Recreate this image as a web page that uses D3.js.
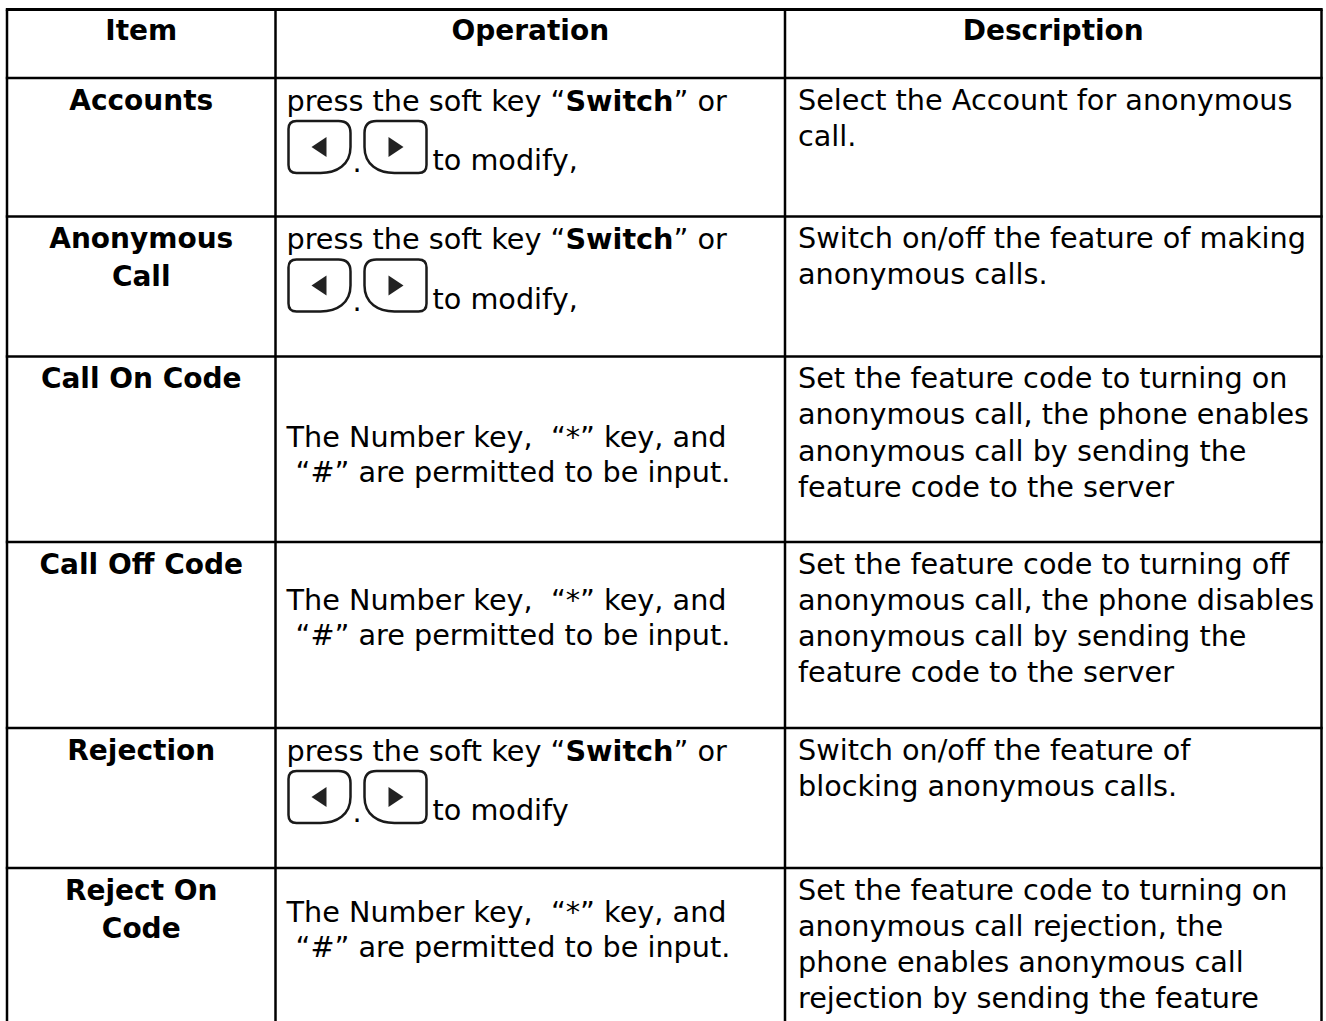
<!DOCTYPE html>
<html><head><meta charset="utf-8">
<script src="https://cdn.jsdelivr.net/npm/d3@7"></script>
<style>body{margin:0;background:#fff}svg{display:block}</style>
</head><body><svg id="c" width="1326" height="1021"></svg>
<script>
// ---------- data ----------
const headers = ["Item", "Operation", "Description"];
const items = [["Accounts"], ["Anonymous", "Call"], ["Call On Code"], ["Call Off Code"], ["Rejection"], ["Reject On", "Code"]];
const operationKinds = ["switch", "switch", "input", "input", "switch", "input"];
const switchLine = ["press the soft key “", "Switch", "” or"];
const switchTails = ["to modify,", "to modify,", null, null, "to modify", null];
const inputLines = ["The Number key,\u00a0 “*” key, and", "\u00a0“#” are permitted to be input."];
const descriptions = [
  ["Select the Account for anonymous", "call."],
  ["Switch on/off the feature of making", "anonymous calls."],
  ["Set the feature code to turning on", "anonymous call, the phone enables", "anonymous call by sending the", "feature code to the server"],
  ["Set the feature code to turning off", "anonymous call, the phone disables", "anonymous call by sending the", "feature code to the server"],
  ["Switch on/off the feature of", "blocking anonymous calls."],
  ["Set the feature code to turning on", "anonymous call rejection, the", "phone enables anonymous call", "rejection by sending the feature"]
];

// ---------- layout ----------
const W = 1326, H = 1021;
const svg = d3.select("#c");
svg.append("rect").attr("width", W).attr("height", H).attr("fill", "#fff");
const FONT = "'DejaVu Sans', Verdana, sans-serif";
const REG = 28.7, BOLD = 28;

const colX = d3.scaleOrdinal().domain(headers).range([7, 275.5, 785]);
const rightEdge = 1321.5;
const colRight = h => { const i = headers.indexOf(h); return i < headers.length - 1 ? colX(headers[i + 1]) : rightEdge; };
const rowIdx = d3.range(items.length + 1);
const rowY = d3.scaleOrdinal().domain(rowIdx).range([9.5, 78, 216.5, 356.5, 542, 728, 868]);
const bottomEdge = 1060;
const inputOffset = [0, 0, 58, 36, 0, 22];

const g = svg.append("g");

// header
g.selectAll("text.hdr").data(headers).join("text")
  .attr("x", h => (colX(h) + colRight(h)) / 2)
  .attr("y", rowY(0) + 30)
  .attr("text-anchor", "middle")
  .attr("font-family", FONT).attr("font-weight", "bold").attr("font-size", BOLD)
  .attr("fill", "#000").text(h => h);

// item column
items.forEach((lines, i) => {
  const cx = (colX("Item") + colRight("Item")) / 2;
  g.selectAll(null).data(lines).join("text")
    .attr("x", cx).attr("y", (d, k) => rowY(i + 1) + 31.5 + k * 38)
    .attr("text-anchor", "middle")
    .attr("font-family", FONT).attr("font-weight", "bold").attr("font-size", BOLD)
    .attr("fill", "#000").text(d => d);
});

// keys
function keyPath(x0, y0, w, h, dir) {
  const x1 = x0 + w, y1 = y0 + h;
  if (dir === "left") {
    return `M${x0 + 8},${y0} H${x1 - 12} Q${x1},${y0} ${x1},${y0 + 12} V${y1 - 26} C${x1},${y1 - 8} ${x1 - 14},${y1} ${x1 - 30},${y1} H${x0 + 8} Q${x0},${y1} ${x0},${y1 - 8} V${y0 + 8} Q${x0},${y0} ${x0 + 8},${y0} Z`;
  }
  return `M${x1 - 8},${y0} H${x0 + 12} Q${x0},${y0} ${x0},${y0 + 12} V${y1 - 26} C${x0},${y1 - 8} ${x0 + 14},${y1} ${x0 + 30},${y1} H${x1 - 8} Q${x1},${y1} ${x1},${y1 - 8} V${y0 + 8} Q${x1},${y0} ${x1 - 8},${y0} Z`;
}
function drawKeys(top, tail) {
  const ox = colX("Operation") + 13;
  const kt = top + 43, kh = 52, kw = 62;
  g.append("path").attr("d", keyPath(ox, kt, kw, kh, "left"))
    .attr("fill", "none").attr("stroke", "#1a1a1a").attr("stroke-width", 2.5);
  const tx = ox + 31;
  g.append("path").attr("d", `M${tx - 8},${kt + 26} L${tx + 7},${kt + 16} L${tx + 7},${kt + 36} Z`).attr("fill", "#222");
  g.append("text").attr("x", ox + kw + 2).attr("y", kt + kh - 1)
    .attr("font-family", FONT).attr("font-size", REG).attr("fill", "#000").text(".");
  const ox2 = ox + kw + 14;
  g.append("path").attr("d", keyPath(ox2, kt, kw, kh, "right"))
    .attr("fill", "none").attr("stroke", "#1a1a1a").attr("stroke-width", 2.5);
  const tx2 = ox2 + 31;
  g.append("path").attr("d", `M${tx2 + 8},${kt + 26} L${tx2 - 7},${kt + 16} L${tx2 - 7},${kt + 36} Z`).attr("fill", "#222");
  g.append("text").attr("x", ox2 + kw + 6).attr("y", top + 92)
    .attr("font-family", FONT).attr("font-size", REG).attr("fill", "#000").text(tail);
}

operationKinds.forEach((kind, i) => {
  const top = rowY(i + 1);
  const x = colX("Operation") + 11;
  if (kind === "switch") {
    const t = g.append("text").attr("x", x).attr("y", top + 32.5)
      .attr("font-family", FONT).attr("font-size", REG).attr("fill", "#000");
    t.selectAll("tspan").data(switchLine).join("tspan")
      .attr("font-weight", (d, k) => k === 1 ? "bold" : "normal").text(d => d);
    drawKeys(top, switchTails[i]);
  } else {
    g.selectAll(null).data(inputLines).join("text")
      .attr("x", x).attr("y", (d, k) => top + 32 + inputOffset[i] + k * 35)
      .attr("font-family", FONT).attr("font-size", REG).attr("fill", "#000")
      .attr("xml:space", "preserve").style("white-space", "pre").text(d => d);
  }
});

// descriptions
descriptions.forEach((lines, i) => {
  const top = rowY(i + 1);
  g.selectAll(null).data(lines).join("text")
    .attr("x", colX("Description") + 13).attr("y", (d, k) => top + 31.5 + k * 36.3)
    .attr("font-family", FONT).attr("font-size", REG).attr("fill", "#000").text(d => d);
});

// grid lines
const lines = svg.append("g").attr("stroke", "#000").attr("stroke-width", 2.5);
lines.selectAll("line.h").data(rowIdx).join("line")
  .attr("x1", colX("Item") - 1.2).attr("x2", rightEdge + 1.2)
  .attr("y1", d => rowY(d)).attr("y2", d => rowY(d))
  .attr("stroke-width", d => d === 0 ? 3 : 2.5);
lines.selectAll("line.v").data([...headers.map(h => colX(h)), rightEdge]).join("line")
  .attr("x1", d => d).attr("x2", d => d)
  .attr("y1", rowY(0)).attr("y2", bottomEdge);
</script>
</body></html>
